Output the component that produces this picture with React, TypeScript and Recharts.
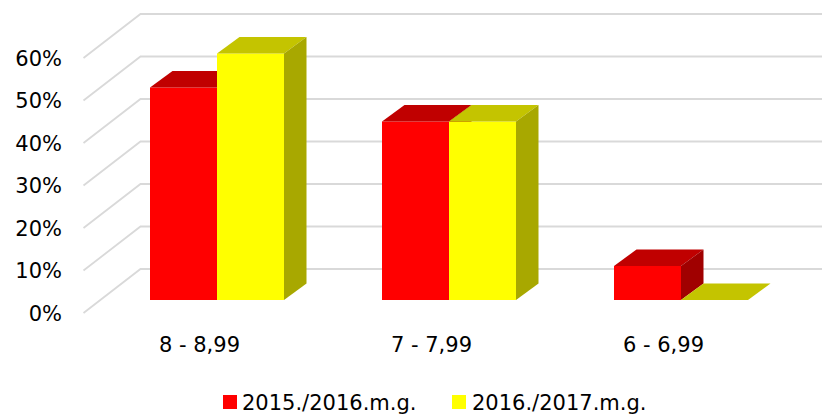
import { BarChart, Bar, XAxis, YAxis, CartesianGrid, Legend } from 'recharts'

const categories = ['8 - 8,99', '7 - 7,99', '6 - 6,99']
const share1516 = [0.5, 0.42, 0.08]
const share1617 = [0.58, 0.42, 0]
const yTicks = [0, 0.1, 0.2, 0.3, 0.4, 0.5, 0.6]
const seriesNames = ['2015./2016.m.g.', '2016./2017.m.g.']

const data = categories.map((c, i) => ({ cat: c, a: share1516[i], b: share1617[i] }))

const FONT = "'DejaVu Sans', Verdana, sans-serif"
// bar depth (front face -> back face)
const DX = 22.5, DY = 16.5
// grid: front label plane -> back wall
const GX = 57, GY = 44
// bar front plane sits this far behind the label plane
const PX = 17, PY = 13

const box3d = (front: string, top: string, side: string) => (p: any) => {
  const { x, y, width: w, height: h } = p
  const b = y + h
  return (
    <g>
      {h > 0 && <rect x={x} y={y} width={w} height={h} fill={front} />}
      <path d={`M${x},${y} L${x + DX},${y - DY} L${x + w + DX},${y - DY} L${x + w},${y} Z`} fill={top} />
      {h > 0 && (
        <path d={`M${x + w},${y} L${x + w + DX},${y - DY} L${x + w + DX},${b - DY} L${x + w},${b} Z`} fill={side} />
      )}
    </g>
  )
}

const gridLine = (p: any) => {
  const { y1, key } = p
  const yb = y1 - (GY - PY)
  const xb = 100.5 - PX + GX
  return (
    <path key={key} d={`M${xb - GX},${yb + GY} L${xb},${yb} L822,${yb}`}
      stroke="#d9d9d9" strokeWidth={1.8} fill="none" />
  )
}

const YTick = (p: any) => (
  <text x={62} y={p.y + PY} dy={7.5} textAnchor="end" fontSize={21} fontFamily={FONT} fill="#000">
    {Math.round(p.payload.value * 100)}%
  </text>
)

const XTick = (p: any) => (
  <text x={p.x - PX} y={352} textAnchor="middle" fontSize={21} fontFamily={FONT} fill="#000">
    {p.payload.value}
  </text>
)

const LegendBox = () => (
  <div style={{ position: 'relative', height: 26, fontFamily: FONT, fontSize: 21, color: '#000', lineHeight: '26px' }}>
    <span style={{ position: 'absolute', left: 223, top: 5, width: 14, height: 14, background: '#ff0000' }} />
    <span style={{ position: 'absolute', left: 242, top: 0, whiteSpace: 'nowrap' }}>{seriesNames[0]}</span>
    <span style={{ position: 'absolute', left: 452, top: 5, width: 14, height: 14, background: '#ffff00' }} />
    <span style={{ position: 'absolute', left: 472, top: 0, whiteSpace: 'nowrap' }}>{seriesNames[1]}</span>
  </div>
)

export default function App() {
  return (
    <div style={{ position: 'absolute', left: 0, top: 0, background: '#fff' }}>
      <BarChart width={822} height={414} data={data}
        margin={{ top: 45, right: 25.5, left: 0, bottom: 84 }}
        barCategoryGap={49.5} barGap={0}>
        <CartesianGrid vertical={false} horizontal={gridLine} />
        <XAxis dataKey="cat" height={30} axisLine={false} tickLine={false} tick={XTick} interval={0} />
        <YAxis width={100.5} domain={[0, 0.6]} ticks={yTicks} axisLine={false} tickLine={false} tick={YTick} />
        <Legend verticalAlign="middle" content={LegendBox}
          wrapperStyle={{ top: 390, left: 0, width: 822, height: 26 }} />
        <Bar dataKey="a" name={seriesNames[0]} isAnimationActive={false}
          shape={box3d('#ff0000', '#c00000', '#a00000')} />
        <Bar dataKey="b" name={seriesNames[1]} isAnimationActive={false}
          shape={box3d('#ffff00', '#c4c400', '#a8a800')} />
      </BarChart>
    </div>
  )
}
